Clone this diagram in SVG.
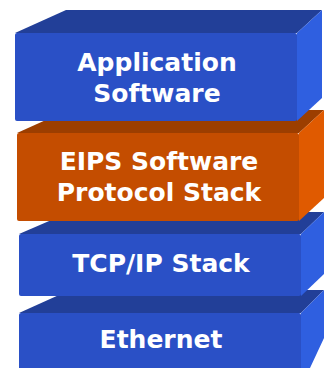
<svg xmlns="http://www.w3.org/2000/svg" width="324" height="368" viewBox="0 0 324 368">
<style>
.bf{fill:#2a50c6}
.bt{fill:#223f98}
.br{fill:#2f5fe0}
.of{fill:#c44d00}
.ot{fill:#9c3e00}
.or{fill:#e05a00}
.lbl{font-family:"DejaVu Sans",Verdana,sans-serif;font-weight:bold;font-size:25px;fill:#ffffff;text-anchor:middle}
</style>
<rect width="324" height="368" fill="#ffffff"/>
<g id="ethernet">
<polygon class="bt" points="19,313 70,290 324,290 301,313"/>
<polygon class="br" points="301,313 324,290 324,338 310,368 301,368"/>
<rect class="bf" x="19" y="313" width="282" height="62" rx="2"/>
<text class="lbl" x="161" y="348">Ethernet</text>
</g>
<g id="tcpip">
<polygon class="bt" points="19,234 70,212 324,212 301,234"/>
<polygon class="br" points="301,234 324,212 324,274 301,296"/>
<rect class="bf" x="19" y="234" width="282" height="62" rx="2"/>
<text class="lbl" x="161" y="272">TCP/IP Stack</text>
</g>
<g id="eips">
<polygon class="ot" points="17,133 68,110 324,110 299,133"/>
<polygon class="or" points="299,133 324,110 324,198 299,221"/>
<rect class="of" x="17" y="133" width="282" height="88" rx="2"/>
<text class="lbl" x="159" y="170">EIPS Software</text>
<text class="lbl" x="159" y="201">Protocol Stack</text>
</g>
<g id="application">
<polygon class="bt" points="15,33 66,10 322,10 297,33"/>
<polygon class="br" points="297,33 322,10 322,98 297,121"/>
<rect class="bf" x="15" y="33" width="282" height="88" rx="2"/>
<text class="lbl" x="157" y="71">Application</text>
<text class="lbl" x="157" y="102">Software</text>
</g>
<g id="connectors"/>
</svg>
